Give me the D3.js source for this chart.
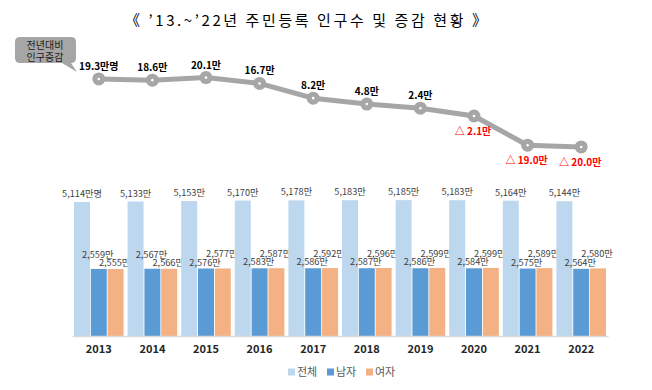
<!DOCTYPE html>
<html>
<head>
<meta charset="utf-8">
<script src="https://cdn.jsdelivr.net/npm/d3@7"></script>
<style>
  body { margin: 0; background: #fff; }
  text { font-family: "Noto Sans CJK KR", "Noto Sans", sans-serif; }
</style>
</head>
<body>
<script>
// data
var years = [2013, 2014, 2015, 2016, 2017, 2018, 2019, 2020, 2021, 2022];
var change = [19.3, 18.6, 20.1, 16.7, 8.2, 4.8, 2.4, -2.1, -19.0, -20.0];
var total = [5114, 5133, 5153, 5170, 5178, 5183, 5185, 5183, 5164, 5144];
var male = [2559, 2567, 2576, 2583, 2586, 2587, 2586, 2584, 2575, 2564];
var female = [2555, 2566, 2577, 2587, 2592, 2596, 2599, 2599, 2589, 2580];
var seriesNames = ["전체", "남자", "여자"];
var colors = ["#bdd7ee", "#5b9bd5", "#f4b183"];

var W = 652, H = 390;
var svg = d3.select("body").append("svg").attr("width", W).attr("height", H);

// title
svg.append("text")
  .attr("x", 306).attr("y", 26)
  .attr("text-anchor", "middle")
  .attr("font-size", 15)
  .attr("fill", "#000")
  .attr("textLength", 362).attr("lengthAdjust", "spacing")
  .text("《 ’13.~’22년 주민등록 인구수 및 증감 현황 》");

// speech bubble
svg.append("path")
  .attr("d", "M20,37 H71 Q76,37 76,42 V58 Q76,63 71,63 H71 L77,72 L62,63 H20 Q15,63 15,58 V42 Q15,37 20,37 Z")
  .attr("fill", "#a6a6a6");
var bt = svg.append("text").attr("text-anchor", "middle")
  .attr("font-size", 10).attr("fill", "#1a1a1a");
bt.append("tspan").attr("x", 45).attr("y", 49).text("전년대비");
bt.append("tspan").attr("x", 45).attr("y", 60.5).text("인구증감");

// scales
var x0 = d3.scaleBand().domain(years).range([72, 608]);
var x1 = d3.scaleBand().domain(seriesNames).range([2, x0.step() - 2]).paddingInner(0.05);
var yBar = d3.scaleLinear().domain([0, 6000]).range([336, 178.8]);
var yLine = d3.scaleLinear().domain([-25, 25]).range([155.6, 69.1]);

var rows = years.map(function(y, i) {
  return { year: y, vals: [total[i], male[i], female[i]] };
});

// bars
var g = svg.selectAll("g.grp").data(rows).enter().append("g")
  .attr("class", "grp")
  .attr("transform", function(d) { return "translate(" + x0(d.year) + ",0)"; });

g.selectAll("rect").data(function(d) { return d.vals; }).enter().append("rect")
  .attr("x", function(d, i) { return x1(seriesNames[i]); })
  .attr("y", function(d) { return yBar(d); })
  .attr("width", x1.bandwidth())
  .attr("height", function(d) { return 336 - yBar(d); })
  .attr("fill", function(d, i) { return colors[i]; });

var fmt = d3.format(",");
g.selectAll("text.val").data(function(d, gi) {
  return d.vals.map(function(v, i) { return { v: v, i: i, gi: gi, other: d.vals[i === 1 ? 2 : 1] }; });
}).enter().append("text")
  .attr("class", "val")
  .attr("x", function(d) { return x1(seriesNames[d.i]) + x1.bandwidth() / 2 - (d.i ? 1 : 0); })
  .attr("y", function(d) {
    if (d.i === 0) return yBar(d.v) - 5;
    return yBar(d.v) - (d.v > d.other ? 11 : 3);
  })
  .attr("text-anchor", "middle")
  .attr("font-size", 9.2)
  .attr("fill", "#404040")
  .text(function(d) { return fmt(d.v) + "만" + (d.gi === 0 && d.i === 0 ? "명" : ""); });

// axis
var axis = svg.append("g").attr("transform", "translate(0,336)")
  .call(d3.axisBottom(x0).tickSize(0).tickPadding(9));
axis.select(".domain").attr("stroke", "#d9d9d9").attr("stroke-width", 1.5);
axis.selectAll("text")
  .attr("font-family", "\"Noto Sans CJK KR\", sans-serif")
  .attr("font-size", 11).attr("font-weight", "bold").attr("fill", "#262626");

// line of yearly change
var cx = function(i) { return x0(years[i]) + x0.step() / 2; };
var line = d3.line().x(function(d, i) { return cx(i); }).y(function(d) { return yLine(d); });
svg.append("path").datum(change)
  .attr("d", line).attr("fill", "none")
  .attr("stroke", "#a6a6a6").attr("stroke-width", 5);
svg.selectAll("circle.pt").data(change).enter().append("circle")
  .attr("class", "pt")
  .attr("cx", function(d, i) { return cx(i); }).attr("cy", function(d) { return yLine(d); })
  .attr("r", 6.5).attr("fill", "#a6a6a6");
svg.selectAll("circle.dot").data(change).enter().append("circle")
  .attr("class", "dot")
  .attr("cx", function(d, i) { return cx(i); }).attr("cy", function(d) { return yLine(d); })
  .attr("r", 1.3).attr("fill", "#fff");

svg.selectAll("text.chg").data(change).enter().append("text")
  .attr("class", "chg")
  .attr("x", function(d, i) { return cx(i) - (d < 0 ? 1 : 0); })
  .attr("y", function(d) { return d < 0 ? yLine(d) + 19 : yLine(d) - 9; })
  .attr("text-anchor", "middle")
  .attr("font-size", 10).attr("font-weight", "bold")
  .attr("fill", function(d) { return d < 0 ? "#ff0000" : "#000"; })
  .text(function(d, i) {
    if (d < 0) return "△ " + (-d).toFixed(1) + "만";
    return d.toFixed(1) + "만" + (i === 0 ? "명" : "");
  });

// legend
var lg = svg.append("g").attr("transform", "translate(288,372)");
var offs = [0, 39, 78];
seriesNames.forEach(function(n, i) {
  lg.append("rect").attr("x", offs[i]).attr("y", -3.5).attr("width", 7).attr("height", 7).attr("fill", colors[i]);
  lg.append("text").attr("x", offs[i] + 9).attr("y", 4)
    .attr("font-size", 11).attr("fill", "#595959").text(n);
});
</script>
</body>
</html>
